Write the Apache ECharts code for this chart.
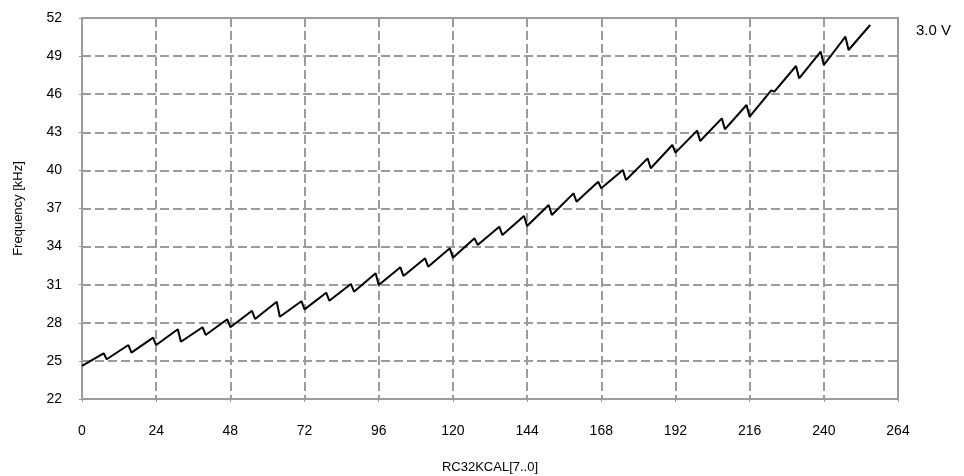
<!DOCTYPE html>
<html lang="en">
<head>
    <meta charset="UTF-8">
    <title>RC32KCAL frequency</title>
    <script src="https://cdn.jsdelivr.net/npm/echarts@6/dist/echarts.min.js"></script>
</head>
<body style="margin:0">
    <div id="main" style="width: 964px; height: 476px"></div>
    <script type="text/javascript">
        // codes where each 8-step ramp starts / ends
        var codes = [0, 7, 8, 15, 16, 23, 24, 31, 32, 39, 40, 47, 48, 55, 56, 63,
                     64, 71, 72, 79, 80, 87, 88, 95, 96, 103, 104, 111, 112, 119, 120, 127,
                     128, 135, 136, 143, 144, 151, 152, 159, 160, 167, 168, 175, 176, 183, 184, 191,
                     192, 199, 200, 207, 208, 215, 216, 223, 224, 231, 232, 239, 240, 247, 248, 255];
        var freq = [24.6, 25.6, 25.13, 26.25, 25.65, 26.83, 26.25, 27.49, 26.51, 27.65, 27.04, 28.28, 27.65, 28.95, 28.3, 29.66,
                    28.48, 29.7, 29.06, 30.37, 29.74, 31.06, 30.45, 31.9, 30.98, 32.37, 31.69, 33.08, 32.42, 33.87, 33.13, 34.65,
                    34.13, 35.57, 34.91, 36.41, 35.62, 37.28, 36.49, 38.19, 37.54, 39.11, 38.59, 40.03, 39.24, 40.95, 40.17, 42.0,
                    41.4, 43.13, 42.31, 44.1, 43.24, 45.15, 44.23, 46.3, 46.2, 48.22, 47.25, 49.35, 48.3, 50.53, 49.48, 51.45];
        var voltage = '3.0 V';

        var pts = [];
        for (var i = 0; i < codes.length; i++) {
            pts.push([codes[i], freq[i]]);
        }

        var font = 'Liberation Sans, Arial, sans-serif';
        var dash = { color: '#9b9b9b', width: 2, type: [9, 4] };

        var option = {
            animation: false,
            backgroundColor: '#fff',
            grid: {
                left: 82, right: 66, top: 18, bottom: 77,
                outerBoundsMode: 'none',
                show: true, borderColor: '#9b9b9b', borderWidth: 2
            },
            xAxis: {
                type: 'value',
                min: 0, max: 264, interval: 24,
                name: 'RC32KCAL[7..0]',
                nameLocation: 'middle',
                nameGap: 62,
                nameTextStyle: { fontFamily: font, fontSize: 13, color: '#000' },
                axisLine: { lineStyle: { color: '#9b9b9b', width: 2 } },
                axisTick: { show: true, length: 3, lineStyle: { color: '#9b9b9b' } },
                axisLabel: { fontFamily: font, fontSize: 14, color: '#000', margin: 25 },
                splitLine: { show: true, lineStyle: dash }
            },
            yAxis: {
                type: 'value',
                min: 22, max: 52, interval: 3,
                name: 'Frequency [kHz]',
                nameLocation: 'middle',
                nameGap: 57,
                nameRotate: 90,
                nameTextStyle: { fontFamily: font, fontSize: 13, color: '#000' },
                axisLine: { show: true, lineStyle: { color: '#9b9b9b', width: 2 } },
                axisTick: { show: true, length: 3, lineStyle: { color: '#9b9b9b' } },
                axisLabel: { fontFamily: font, fontSize: 14, color: '#000', margin: 20 },
                splitLine: { show: true, lineStyle: dash }
            },
            graphic: [{
                type: 'text',
                left: 916, top: 23,
                style: { text: voltage, font: '15px ' + font, fill: '#000' }
            }],
            series: [{
                type: 'line',
                data: pts,
                showSymbol: false,
                lineStyle: { color: '#000', width: 2 }
            }]
        };

        var chart = echarts.init(document.getElementById('main'));
        chart.setOption(option);
    </script>
</body>
</html>
